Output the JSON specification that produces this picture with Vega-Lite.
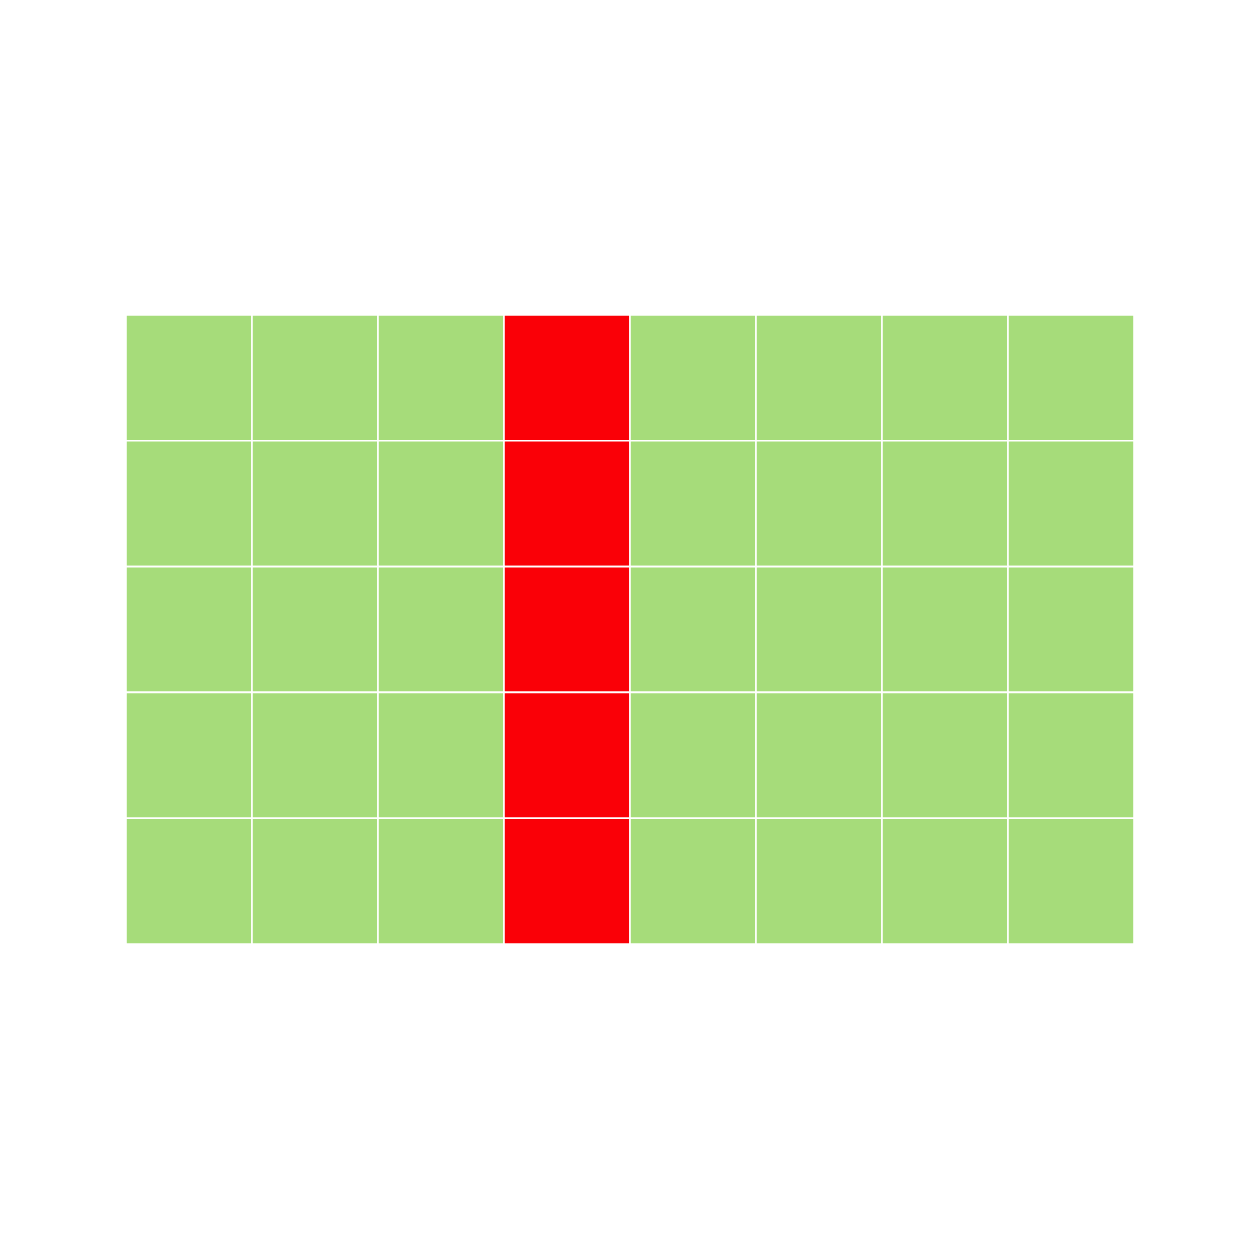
{
  "$schema": "https://vega.github.io/schema/vega-lite/v6.json",
  "autosize": {"type": "none"},
  "padding": {"left": 126, "top": 315, "right": 0, "bottom": 0},
  "width": 1008,
  "height": 629,
  "background": "white",
  "config": {"view": {"stroke": null}},
  "data": {"values": [
    {"col": 1, "row": 1, "status": "ok"}, {"col": 2, "row": 1, "status": "ok"}, {"col": 3, "row": 1, "status": "ok"}, {"col": 4, "row": 1, "status": "bad"}, {"col": 5, "row": 1, "status": "ok"}, {"col": 6, "row": 1, "status": "ok"}, {"col": 7, "row": 1, "status": "ok"}, {"col": 8, "row": 1, "status": "ok"},
    {"col": 1, "row": 2, "status": "ok"}, {"col": 2, "row": 2, "status": "ok"}, {"col": 3, "row": 2, "status": "ok"}, {"col": 4, "row": 2, "status": "bad"}, {"col": 5, "row": 2, "status": "ok"}, {"col": 6, "row": 2, "status": "ok"}, {"col": 7, "row": 2, "status": "ok"}, {"col": 8, "row": 2, "status": "ok"},
    {"col": 1, "row": 3, "status": "ok"}, {"col": 2, "row": 3, "status": "ok"}, {"col": 3, "row": 3, "status": "ok"}, {"col": 4, "row": 3, "status": "bad"}, {"col": 5, "row": 3, "status": "ok"}, {"col": 6, "row": 3, "status": "ok"}, {"col": 7, "row": 3, "status": "ok"}, {"col": 8, "row": 3, "status": "ok"},
    {"col": 1, "row": 4, "status": "ok"}, {"col": 2, "row": 4, "status": "ok"}, {"col": 3, "row": 4, "status": "ok"}, {"col": 4, "row": 4, "status": "bad"}, {"col": 5, "row": 4, "status": "ok"}, {"col": 6, "row": 4, "status": "ok"}, {"col": 7, "row": 4, "status": "ok"}, {"col": 8, "row": 4, "status": "ok"},
    {"col": 1, "row": 5, "status": "ok"}, {"col": 2, "row": 5, "status": "ok"}, {"col": 3, "row": 5, "status": "ok"}, {"col": 4, "row": 5, "status": "bad"}, {"col": 5, "row": 5, "status": "ok"}, {"col": 6, "row": 5, "status": "ok"}, {"col": 7, "row": 5, "status": "ok"}, {"col": 8, "row": 5, "status": "ok"}
  ]},
  "mark": {"type": "rect", "stroke": "white", "strokeWidth": 1.6},
  "encoding": {
    "x": {"field": "col", "type": "ordinal", "axis": null, "scale": {"paddingInner": 0, "paddingOuter": 0}},
    "y": {"field": "row", "type": "ordinal", "axis": null, "scale": {"paddingInner": 0, "paddingOuter": 0}},
    "color": {"field": "status", "type": "nominal", "legend": null, "scale": {"domain": ["ok", "bad"], "range": ["#a6dc7a", "#fa0007"]}}
  }
}
